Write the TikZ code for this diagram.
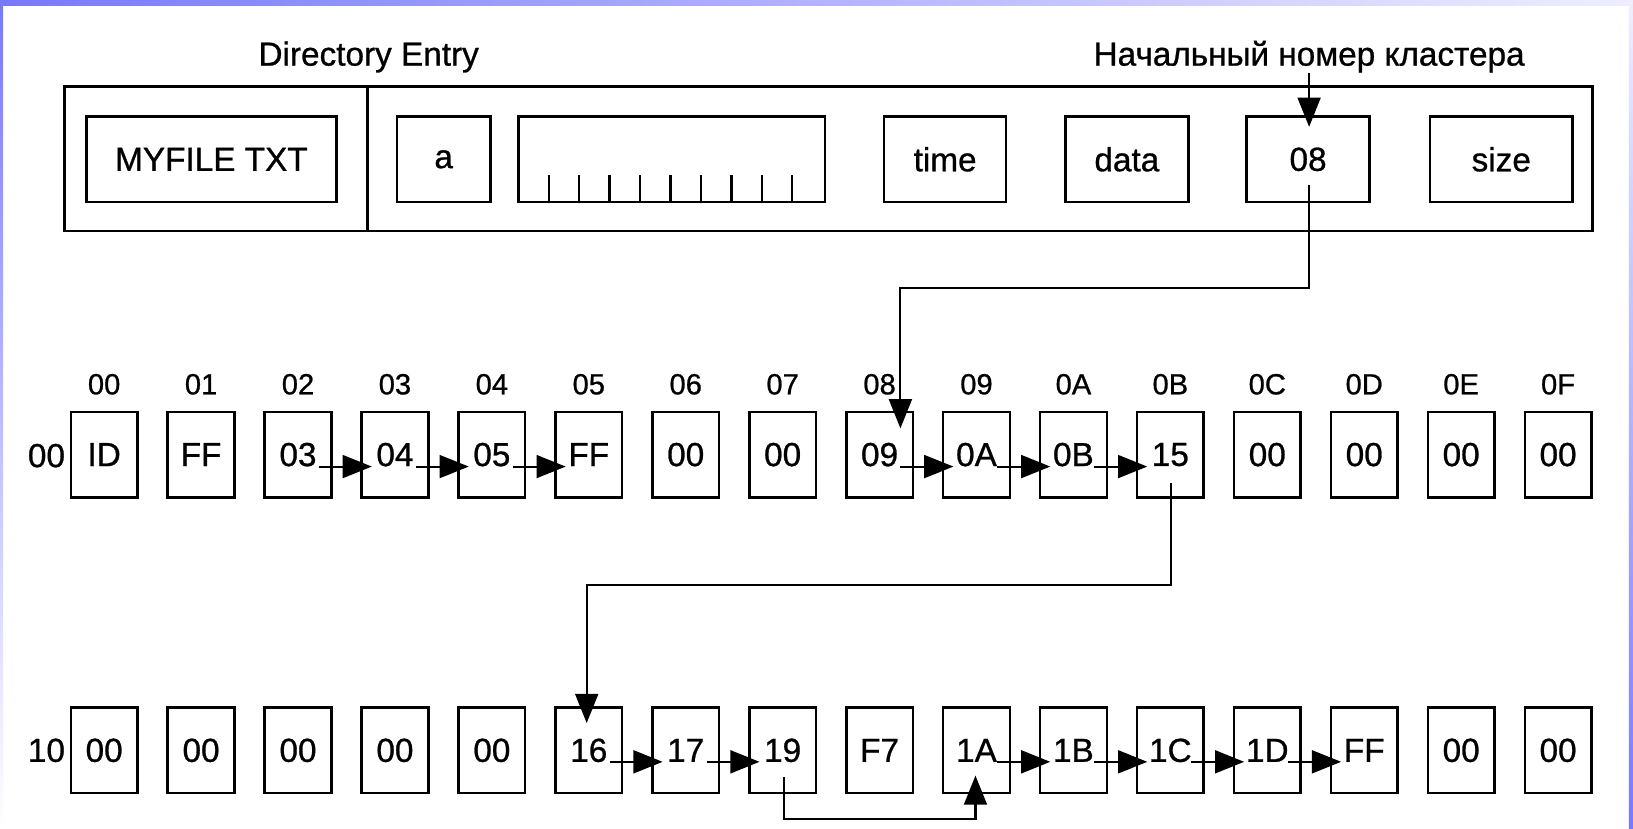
\documentclass[tikz,border=0pt]{standalone}
\usepackage{fontspec}
\setmainfont[FakeBold=0.8]{Liberation Sans}
\usetikzlibrary{arrows.meta,calc}
\definecolor{edgeblue}{RGB}{120,120,255}
\definecolor{edgelight}{RGB}{238,238,255}
\begin{document}
\begin{tikzpicture}[x=0.5pt,y=-0.5pt,
  box/.style={draw,line width=1.2pt,inner sep=0pt,font=\fontsize{16}{19}\selectfont},
  cell/.style={box,minimum width=32pt,minimum height=41pt},
  hdr/.style={inner sep=0pt,font=\fontsize{14}{17}\selectfont},
  lbl/.style={inner sep=1pt,font=\fontsize{16}{19}\selectfont},
  arr/.style={line width=1pt,-{Triangle[length=14pt,width=11pt]}}]

\useasboundingbox (0,0) rectangle (1568,796);
\fill[white] (0,0) rectangle (1568,796);
% slide edges
\shade[left color=edgeblue,right color=edgelight] (0,0) rectangle (1568,5);
\shade[top color=edgeblue,bottom color=white] (0,0) rectangle (3,796);
\shade[top color=edgelight,bottom color=edgeblue] (1564,0) rectangle (1568,796);

% directory entry
\node[lbl,anchor=base] (dirlbl) at (354,63) {Directory Entry};
\node[lbl,anchor=base] (clulbl) at (1257,63) {Начальный номер кластера};
\draw[line width=1.2pt] (62,83) rectangle (1529,222);
\draw[line width=1.2pt] (353,83) -- (353,222);

\node[box,minimum width=120pt,minimum height=41pt] (fname) at (203,153) {MYFILE TXT};
\node[box,minimum width=45pt,minimum height=41pt] (attr) at (426,153) {a};
\node[box,minimum width=147pt,minimum height=41pt] (tb) at (645,153) {};
\foreach \k in {0,...,8}
  \draw[line width=1.1pt] ($(tb.south west)+(30+29.25*\k,0)$) -- ++(0,-27);
\node[box,minimum width=58.5pt,minimum height=41pt] (time) at (907.5,153) {time};
\node[box,minimum width=59pt,minimum height=41pt] (data) at (1082,153) {data};
\node[box,minimum width=59pt,minimum height=41pt] (d08) at (1256,153) {08};
\node[box,minimum width=68.5pt,minimum height=41pt] (size) at (1441.5,153) {size};

\draw[arr] (1257,70) -- ($(d08.north)+(1,11)$);

% FAT headers
\foreach \h [count=\i from 0] in {00,01,02,03,04,05,06,07,08,09,0A,0B,0C,0D,0E,0F}
  \node[hdr] (h\i) at ({100+93.07*\i},369) {\h};

% row 00
\foreach \v [count=\i from 0] in {ID,FF,03,04,05,FF,00,00,09,0A,0B,15,00,00,00,00}
  \node[cell] (a\i) at ({100+93.07*\i},436.5) {\v};
% row 10
\foreach \v [count=\i from 0] in {00,00,00,00,00,16,17,19,F7,1A,1B,1C,1D,FF,00,00}
  \node[cell] (b\i) at ({100+93.07*\i},720.5) {\v};

\node[lbl,anchor=east,inner sep=0pt] (r0) at ($(a0.west)+(-4,1)$) {00};
\node[lbl,anchor=east,inner sep=0pt] (r1) at ($(b0.west)+(-4,0)$) {10};

% chain arrows
\foreach \p/\q in {2/3,3/4,4/5,8/9,9/10,10/11}
  \draw[arr] ($(a\p.center)+(20,11.5)$) -- ($(a\q.west)+(11,11.5)$);
\foreach \p/\q in {5/6,6/7,9/10,10/11,11/12,12/13}
  \draw[arr] ($(b\p.center)+(20,11)$) -- ($(b\q.west)+(11,11)$);

% long connectors
\draw[arr] ($(d08.center)+(1,25)$) |- ($(a8.north)+(20,-118)$) -- ($(a8.north)+(20,17)$);
\draw[arr] ($(a11.center)+(1,27)$) |- ($(b5.north)+(-2,-117)$) -- ($(b5.north)+(-2,16)$);
\draw[arr] ($(b7.center)+(1,25.5)$) |- ($(b9.south)+(-1,24)$) -- ($(b9.south)+(-1,-18)$);
\end{tikzpicture}
\end{document}
